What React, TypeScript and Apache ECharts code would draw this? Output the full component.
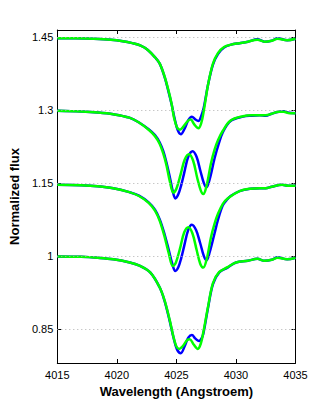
import React, { useEffect, useRef } from "react";
import * as echarts from "echarts";

const xTicks = [4015, 4020, 4025, 4030, 4035];
const yTicks = [0.85, 1, 1.15, 1.3, 1.45];

// Spectrum 1 (continuum 1.45)
const topBlue: [number, number][] = [
  [4015, 1.447], [4016.5, 1.447], [4018, 1.446], [4019.5, 1.444], [4020.5, 1.441], [4021.3, 1.437],
  [4022, 1.432], [4022.6, 1.423], [4023.2, 1.408], [4023.6, 1.395], [4024, 1.368], [4024.3, 1.341],
  [4024.6, 1.311], [4024.85, 1.282], [4025.1, 1.259], [4025.37, 1.25], [4025.7, 1.262], [4026.0, 1.279],
  [4026.3, 1.286], [4026.6, 1.28], [4026.85, 1.277], [4027.05, 1.285], [4027.3, 1.305], [4027.66, 1.352],
  [4028.07, 1.393], [4028.5, 1.415], [4029, 1.428], [4029.6, 1.434], [4030.3, 1.437], [4031, 1.44],
  [4031.8, 1.445], [4032.4, 1.44], [4033, 1.442], [4033.5, 1.447], [4034.3, 1.443], [4035, 1.446],
];
const topGreen: [number, number][] = [
  [4015, 1.447], [4016.5, 1.447], [4018, 1.446], [4019.5, 1.444], [4020.5, 1.441], [4021.3, 1.437],
  [4022, 1.432], [4022.6, 1.423], [4023.2, 1.408], [4023.6, 1.395], [4024, 1.369], [4024.3, 1.343],
  [4024.6, 1.312], [4024.8, 1.284], [4025.05, 1.264], [4025.3, 1.259], [4025.6, 1.266], [4025.95, 1.277],
  [4026.2, 1.28], [4026.5, 1.27], [4026.85, 1.262], [4027.1, 1.274], [4027.3, 1.298], [4027.66, 1.352],
  [4028.07, 1.395], [4028.5, 1.417], [4029, 1.429], [4029.6, 1.434], [4030.3, 1.437], [4031, 1.44],
  [4031.8, 1.444], [4032.4, 1.44], [4033, 1.442], [4033.5, 1.446], [4034.3, 1.443], [4035, 1.446],
];

// Spectrum 2 (continuum 1.3)
const s2Blue: [number, number][] = [
  [4015, 1.298], [4017, 1.2965], [4018.4, 1.2945], [4019.7, 1.291], [4021.05, 1.284], [4021.86, 1.274],
  [4022.67, 1.26], [4023.2, 1.248], [4023.6, 1.233], [4023.9, 1.215], [4024.16, 1.192], [4024.48, 1.158],
  [4024.7, 1.132], [4024.91, 1.118], [4025.15, 1.126], [4025.4, 1.145], [4025.65, 1.17], [4026.0, 1.204],
  [4026.37, 1.215], [4026.7, 1.203], [4027.0, 1.176], [4027.3, 1.15], [4027.53, 1.141], [4027.8, 1.158],
  [4028.2, 1.2], [4028.5, 1.226], [4028.9, 1.254], [4029.55, 1.277], [4030.6, 1.286], [4031.3, 1.288],
  [4032, 1.289], [4032.5, 1.288], [4033, 1.292], [4033.6, 1.296], [4034, 1.297], [4034.5, 1.294], [4035, 1.293],
];
const s2Green: [number, number][] = [
  [4015, 1.298], [4017, 1.2965], [4018.4, 1.2945], [4019.7, 1.291], [4021.05, 1.284], [4021.86, 1.274],
  [4022.67, 1.259], [4023.2, 1.246], [4023.6, 1.23], [4023.9, 1.21], [4024.16, 1.187], [4024.45, 1.153],
  [4024.75, 1.13], [4025.0, 1.138], [4025.35, 1.167], [4025.7, 1.198], [4026.05, 1.209], [4026.4, 1.196],
  [4026.75, 1.16], [4027.05, 1.134], [4027.26, 1.127], [4027.55, 1.146], [4027.9, 1.19], [4028.2, 1.218],
  [4028.5, 1.238], [4028.9, 1.257], [4029.55, 1.278], [4030.6, 1.287], [4031.3, 1.289], [4032, 1.289],
  [4032.5, 1.289], [4033, 1.292], [4033.6, 1.296], [4034, 1.296], [4034.5, 1.293], [4035, 1.293],
];

// Spectrum 3 (continuum 1.15)
const s3Blue: [number, number][] = [
  [4015, 1.146], [4017, 1.145], [4018.4, 1.143], [4019.7, 1.139], [4021.05, 1.131], [4021.86, 1.124],
  [4022.67, 1.11], [4023.2, 1.095], [4023.6, 1.075], [4024.0, 1.045], [4024.37, 1.011], [4024.65, 0.984],
  [4024.91, 0.969], [4025.15, 0.976], [4025.4, 0.995], [4025.65, 1.02], [4026.0, 1.054], [4026.3, 1.064],
  [4026.65, 1.053], [4027.0, 1.026], [4027.3, 1.0], [4027.53, 0.991], [4027.8, 1.008], [4028.2, 1.046],
  [4028.5, 1.075], [4028.9, 1.104], [4029.3, 1.117], [4029.55, 1.123], [4030.3, 1.133], [4031.2, 1.138],
  [4032, 1.139], [4032.5, 1.139], [4033, 1.142], [4033.87, 1.146], [4034.4, 1.144], [4035, 1.144],
];
const s3Green: [number, number][] = [
  [4015, 1.146], [4017, 1.145], [4018.4, 1.143], [4019.7, 1.139], [4021.05, 1.131], [4021.86, 1.123],
  [4022.67, 1.109], [4023.2, 1.093], [4023.6, 1.072], [4024.0, 1.04], [4024.35, 1.006], [4024.7, 0.979],
  [4024.95, 0.986], [4025.3, 1.015], [4025.65, 1.048], [4026.0, 1.059], [4026.35, 1.046], [4026.7, 1.012],
  [4027.0, 0.984], [4027.26, 0.976], [4027.55, 0.994], [4027.9, 1.038], [4028.2, 1.066], [4028.5, 1.087],
  [4028.9, 1.107], [4029.3, 1.118], [4030.3, 1.133], [4031.2, 1.138], [4032, 1.139], [4032.5, 1.139],
  [4033, 1.142], [4033.87, 1.146], [4034.4, 1.144], [4035, 1.144],
];

// Spectrum 4 (continuum 1.0)
const s4Blue: [number, number][] = [
  [4015, 0.999], [4017, 0.998], [4018.4, 0.996], [4019.7, 0.993], [4021, 0.987], [4021.9, 0.98],
  [4022.8, 0.966], [4023.6, 0.935], [4024.0, 0.908], [4024.43, 0.867], [4024.75, 0.833], [4025.05, 0.808],
  [4025.37, 0.8], [4025.7, 0.815], [4026.0, 0.832], [4026.3, 0.8375], [4026.6, 0.83], [4026.9, 0.825],
  [4027.1, 0.83], [4027.26, 0.84], [4027.66, 0.894], [4028.07, 0.942], [4028.6, 0.966], [4029.3, 0.976],
  [4030, 0.9865], [4031, 0.99], [4031.8, 0.994], [4032.4, 0.99], [4033, 0.992], [4033.5, 0.997],
  [4034.3, 0.993], [4035, 0.996],
];
const s4Green: [number, number][] = [
  [4015, 0.999], [4017, 0.998], [4018.4, 0.996], [4019.7, 0.993], [4021, 0.987], [4021.9, 0.98],
  [4022.8, 0.966], [4023.6, 0.935], [4024.0, 0.909], [4024.43, 0.869], [4024.75, 0.834], [4025.0, 0.814],
  [4025.24, 0.809], [4025.55, 0.815], [4025.9, 0.827], [4026.12, 0.829], [4026.45, 0.818], [4026.8, 0.809],
  [4027.05, 0.82], [4027.26, 0.843], [4027.66, 0.896], [4028.07, 0.944], [4028.6, 0.967], [4029.3, 0.977],
  [4030, 0.9865], [4031, 0.99], [4031.8, 0.994], [4032.4, 0.99], [4033, 0.992], [4033.5, 0.996],
  [4034.3, 0.993], [4035, 0.996],
];

const blueSeries = [topBlue, s2Blue, s3Blue, s4Blue];
const greenSeries = [topGreen, s2Green, s3Green, s4Green];

export default function App() {
  const ref = useRef<HTMLDivElement>(null);
  useEffect(() => {
    const chart = echarts.init(ref.current!, null, { renderer: "svg" });
    const font = "'Liberation Sans', Arial, Helvetica, sans-serif";
    const line = (data: [number, number][], color: string, name: string, z: number) => ({
      type: "line",
      name,
      data,
      smooth: 0.35,
      showSymbol: false,
      symbol: "none",
      lineStyle: { color, width: 2.5 },
      xAxisIndex: 0,
      yAxisIndex: 0,
      z,
    });
    const series: any[] = [
      {
        type: "line",
        data: [],
        xAxisIndex: 0,
        yAxisIndex: 0,
        markLine: {
          silent: true,
          symbol: "none",
          label: { show: false },
          lineStyle: { color: "#b0b0b0", type: [1, 3], width: 1 },
          data: yTicks.map((v) => ({ yAxis: v })),
        },
      },
      ...blueSeries.map((d, i) => line(d, "#0000ff", "blue" + i, 2)),
      ...greenSeries.map((d, i) => line(d, "#00ff00", "green" + i, 3)),
    ];
    const axisLine = { show: true, lineStyle: { color: "#000", width: 1 } };
    const tick = { show: true, inside: true, length: 4, lineStyle: { color: "#000" } };
    chart.setOption({
      animation: false,
      backgroundColor: "#fff",
      grid: { left: 48.5, right: 31.5, top: 30, bottom: 46 },
      xAxis: [
        {
          type: "value",
          min: 4015,
          max: 4035,
          interval: 5,
          position: "bottom",
          name: "Wavelength (Angstroem)",
          nameLocation: "middle",
          nameGap: 20,
          nameTextStyle: { fontFamily: font, fontWeight: "bold", fontSize: 13, color: "#000" },
          axisLine,
          axisTick: tick,
          axisLabel: {
            fontFamily: font,
            fontSize: 11,
            color: "#000",
            margin: 6,
            customValues: xTicks,
            formatter: (v: number) => String(v),
          },
          splitLine: { show: false },
        },
        {
          type: "value",
          min: 4015,
          max: 4035,
          interval: 5,
          position: "top",
          axisLine,
          axisTick: tick,
          axisLabel: { show: false },
          splitLine: { show: false },
        },
      ],
      yAxis: [
        {
          type: "value",
          min: 0.78,
          max: 1.464,
          position: "left",
          name: "Normalized flux",
          nameLocation: "middle",
          nameGap: 33,
          nameTextStyle: { fontFamily: font, fontWeight: "bold", fontSize: 13, color: "#000" },
          axisLine,
          axisTick: { ...tick, customValues: yTicks },
          axisLabel: {
            fontFamily: font,
            fontSize: 11,
            color: "#000",
            margin: 4,
            customValues: yTicks,
            formatter: (v: number) => String(v),
          },
          splitLine: { show: false },
        },
        {
          type: "value",
          min: 0.78,
          max: 1.464,
          position: "right",
          axisLine,
          axisTick: { ...tick, customValues: yTicks },
          axisLabel: { show: false, customValues: yTicks },
          splitLine: { show: false },
        },
      ],
      series,
    });
    return () => chart.dispose();
  }, []);
  return (
    <div
      ref={ref}
      style={{ position: "absolute", left: 0, top: 0, width: 327, height: 409 }}
    />
  );
}
